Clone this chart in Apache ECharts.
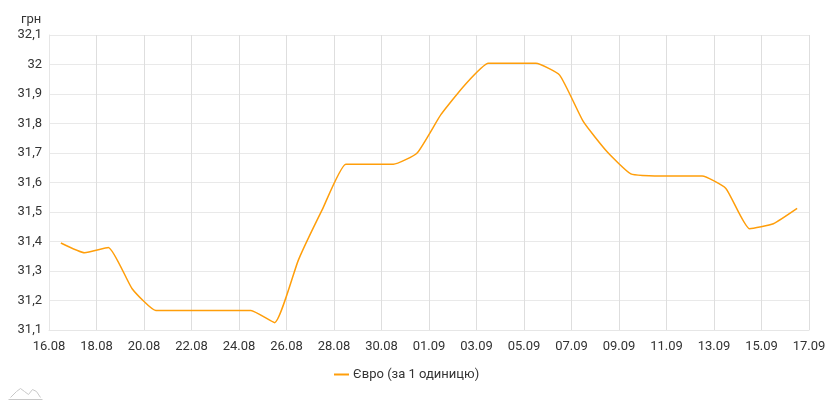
<!DOCTYPE html>
<html>
<head>
<meta charset="utf-8">
<script src="https://cdn.jsdelivr.net/npm/echarts@6/dist/echarts.min.js"></script>
<style>html,body{margin:0;padding:0;background:#fff}#c{width:829px;height:400px}</style>
</head>
<body>
<div id="c"></div>
<script>
const dates = ['16.08','17.08','18.08','19.08','20.08','21.08','22.08','23.08','24.08','25.08','26.08','27.08','28.08','29.08','30.08','31.08',
  '01.09','02.09','03.09','04.09','05.09','06.09','07.09','08.09','09.09','10.09','11.09','12.09','13.09','14.09','15.09','16.09'];
const values = [31.395,31.362,31.38,31.24,31.166,31.166,31.166,31.166,31.166,31.125,31.337,31.507,31.662,31.662,31.662,31.70,
  31.83,31.93,32.004,32.004,32.004,31.964,31.806,31.704,31.629,31.622,31.622,31.622,31.58,31.443,31.46,31.512];
const yTicks = { min: 31.1, max: 32.1, step: 0.1 };
const seriesName = 'Євро (за 1 одиницю)';
const unitName = 'грн';
const startYear = 2021;

function toDay(s){
  const [d,m] = s.split('.').map(Number);
  const t = Date.UTC(startYear, m-1, d);
  return (t - Date.UTC(startYear, 7, 16)) / 86400000 + 0.5;
}
const data = dates.map((d,i)=>[toDay(d), values[i]]);
function fmtDay(v){
  const t = new Date(Date.UTC(startYear,7,16) + Math.round(v)*86400000);
  const dd = String(t.getUTCDate()).padStart(2,'0');
  const mm = String(t.getUTCMonth()+1).padStart(2,'0');
  return dd+'.'+mm;
}
const chart = echarts.init(document.getElementById('c'));
chart.setOption({
  animation:false,
  textStyle:{fontFamily:'Roboto'},
  title:{text:unitName,left:16,top:8,textStyle:{fontSize:13,fontWeight:'normal',color:'#333',fontFamily:'Roboto'}},
  grid:{left:49,right:20,top:35,bottom:70},
  legend:{bottom:14,left:329,icon:'rect',itemWidth:15,itemHeight:2,itemGap:6,
    textStyle:{fontSize:13,color:'#333',fontFamily:'Roboto',padding:[0,0,0,-1]},data:[seriesName]},
  xAxis:{type:'value',min:0,max:32,interval:2,
    axisLine:{show:true,lineStyle:{color:'#e6e6e6'}},axisTick:{show:false},
    splitLine:{show:true,lineStyle:{color:'#dedede'}},
    axisLabel:{formatter:fmtDay,fontSize:13,color:'#333',margin:10}},
  yAxis:{type:'value',min:yTicks.min,max:yTicks.max,interval:yTicks.step,
    axisLine:{show:true,lineStyle:{color:'#e6e6e6'}},axisTick:{show:false},
    splitLine:{show:true,lineStyle:{color:'#e9e9e9'}},
    axisLabel:{formatter:v=>(Math.round(v*10)/10).toString().replace('.',','),fontSize:13,color:'#333',margin:7}},
  graphic:[{type:'polyline',left:8,top:386,shape:{points:[[0,12],[6,6],[10,3],[14,6],[18,9],[22,4],[26,6],[30,12]]},
    style:{stroke:'#c8c8c8',fill:null,lineWidth:1}},
    {type:'line',left:6,top:397,shape:{x1:0,y1:0,x2:34,y2:0},style:{stroke:'#c8c8c8',lineWidth:1}}],
  series:[{name:seriesName,type:'line',data:data,smooth:0.15,showSymbol:false,
    lineStyle:{color:'#ff9e0a',width:1.5},itemStyle:{color:'#ff9e0a'}}]
});
</script>
</body>
</html>
